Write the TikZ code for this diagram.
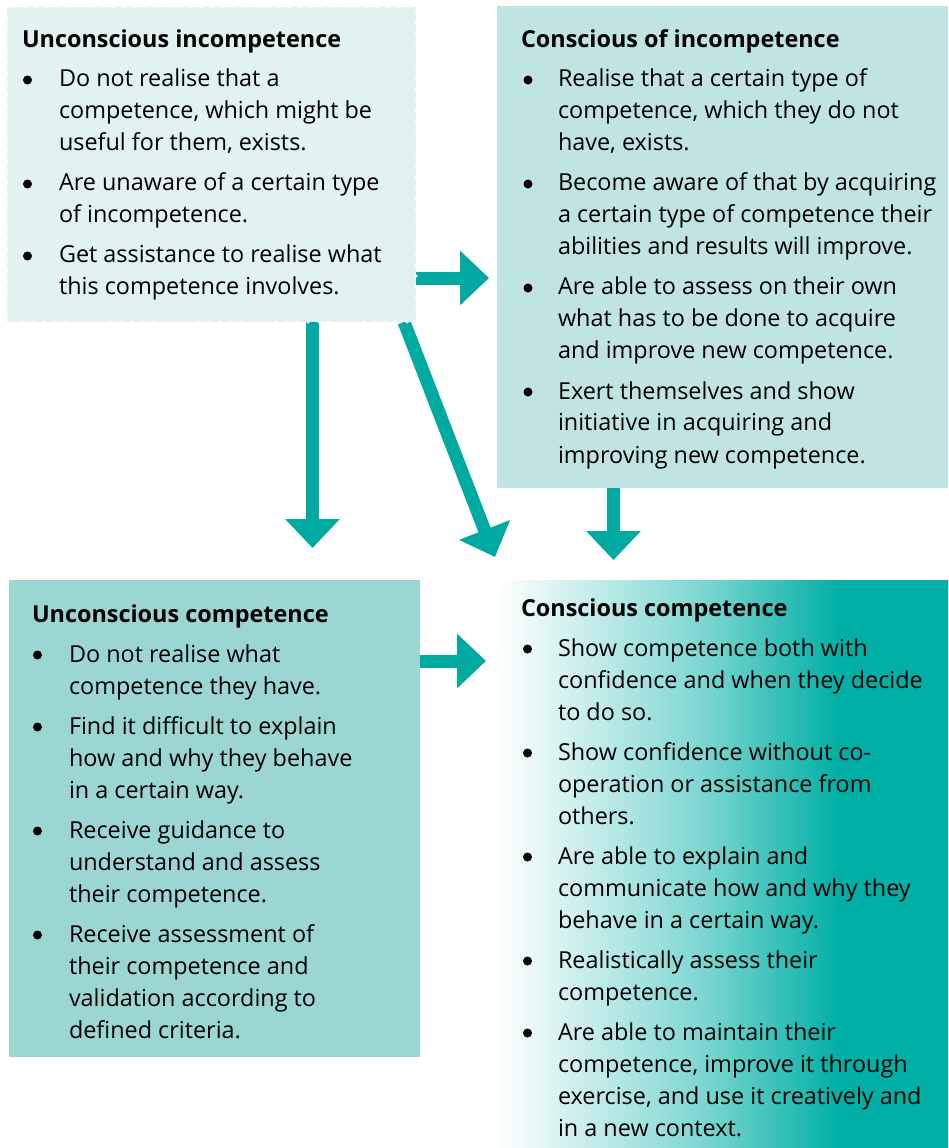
\documentclass[tikz,border=0pt]{standalone}
\usepackage{fontspec}
\setmainfont{Open Sans}
\usetikzlibrary{arrows.meta}
\definecolor{fillA}{RGB}{225,242,240}
\definecolor{fillB}{RGB}{192,228,225}
\definecolor{fillC}{RGB}{156,214,210}
\definecolor{arrowteal}{RGB}{0,170,160}
\definecolor{tealD}{RGB}{0,175,165}
\pgfdeclarehorizontalshading{dgrad}{100bp}{color(0bp)=(white); color(25bp)=(white); color(47.5bp)=(tealD!50!white); color(63bp)=(tealD); color(100bp)=(tealD)}
\pgfdeclarelayer{bg}
\pgfsetlayers{bg,main}
\begin{document}
\begin{tikzpicture}[x=1pt,y=-1pt,
  panel/.style={anchor=north west, inner sep=0pt, outer sep=0pt, draw=none},
  txt/.style={anchor=base west, inner sep=0pt, outer sep=0pt, font=\fontsize{23.4}{32}\selectfont, align=left},
  arr/.style={draw=arrowteal, line width=13pt, -{Triangle[width=53pt,length=29pt]}},
  stamp/.style={draw=white, line width=3.5pt, dash pattern=on 0pt off 11pt, line cap=round},
  bulletdot/.style={fill=black}
]
\useasboundingbox (0,0) rectangle (948,1148);

% panels
\node[panel, fill=fillA, minimum width=409pt, minimum height=315pt] (A) at (7,7) {};
\node[panel, fill=fillB, minimum width=451pt, minimum height=482pt] (B) at (497,6) {};
\node[panel, fill=fillC, minimum width=411pt, minimum height=477pt] (C) at (9,580) {};
\node[panel, shading=dgrad, minimum width=451pt, minimum height=568pt] (D) at (497,580) {};
\draw[stamp] (A.north west) rectangle (A.south east);

% arrow tips
\coordinate (t1) at (489,278);
\coordinate (t2) at (312.5,548);
\coordinate (s3) at (404,322);
\coordinate (t3) at (495,557);
\coordinate (t4) at (613.5,560);
\coordinate (t5) at (486,661);

\begin{pgfonlayer}{bg}
\draw[arr] (A.east |- t1) -- (t1);
\draw[arr] (A.south -| t2) -- (t2);
\draw[arr] (A.south -| s3) -- (t3);
\draw[arr] (B.south -| t4) -- (t4);
\draw[arr] (C.east |- t5) -- (t5);
\end{pgfonlayer}

% bullets
\foreach \yy in {80,184,256} \fill[bulletdot] (27.5,\yy) circle (4.5pt);
\foreach \yy in {80,184,288,392} \fill[bulletdot] (528,\yy) circle (4.5pt);
\foreach \yy in {655,727,831,935} \fill[bulletdot] (37.5,\yy) circle (4.5pt);
\foreach \yy in {649,753,857,961,1033} \fill[bulletdot] (527.5,\yy) circle (4.5pt);

% texts
\node[txt] (Atext) at (22,48) {\begin{tabular}[t]{@{}p{37pt}@{}l@{}}
\multicolumn{2}{@{}l@{}}{\bfseries Unconscious incompetence}\\[7pt]
& Do not realise that a\\
& competence, which might be\\
& useful for them, exists.\\[8pt]
& Are unaware of a certain type\\
& of incompetence.\\[8pt]
& Get assistance to realise what\\
& this competence involves.
\end{tabular}};

\node[txt] (Btext) at (521,48) {\begin{tabular}[t]{@{}p{37pt}@{}l@{}}
\multicolumn{2}{@{}l@{}}{\bfseries Conscious of incompetence}\\[7pt]
& Realise that a certain type of\\
& competence, which they do not\\
& have, exists.\\[8pt]
& Become aware of that by acquiring\\
& a certain type of competence their\\
& abilities and results will improve.\\[8pt]
& Are able to assess on their own\\
& what has to be done to acquire\\
& and improve new competence.\\[8pt]
& Exert themselves and show\\
& initiative in acquiring and\\
& improving new competence.
\end{tabular}};

\node[txt] (Ctext) at (32,622) {\begin{tabular}[t]{@{}p{37pt}@{}l@{}}
\multicolumn{2}{@{}l@{}}{\bfseries Unconscious competence}\\[8pt]
& Do not realise what\\
& competence they have.\\[8pt]
& Find it difficult to explain\\
& how and why they behave\\
& in a certain way.\\[8pt]
& Receive guidance to\\
& understand and assess\\
& their competence.\\[8pt]
& Receive assessment of\\
& their competence and\\
& validation according to\\
& defined criteria.
\end{tabular}};

\node[txt] (Dtext) at (521,616) {\begin{tabular}[t]{@{}p{37pt}@{}l@{}}
\multicolumn{2}{@{}l@{}}{\bfseries Conscious competence}\\[8pt]
& Show competence both with\\
& confidence and when they decide\\
& to do so.\\[8pt]
& Show confidence without co-\\
& operation or assistance from\\
& others.\\[8pt]
& Are able to explain and\\
& communicate how and why they\\
& behave in a certain way.\\[8pt]
& Realistically assess their\\
& competence.\\[8pt]
& Are able to maintain their\\
& competence, improve it through\\
& exercise, and use it creatively and\\
& in a new context.
\end{tabular}};
\end{tikzpicture}
\end{document}
